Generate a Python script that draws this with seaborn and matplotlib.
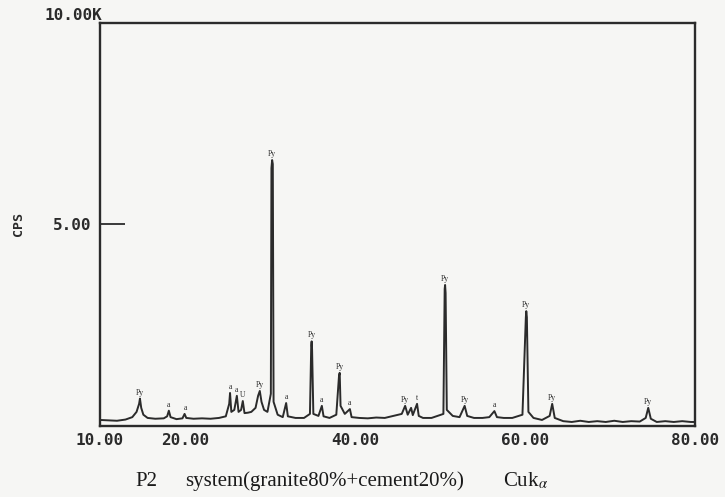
import matplotlib
matplotlib.use("Agg")
import matplotlib.pyplot as plt
import seaborn as sns
import pandas as pd

# ---- data (2-theta in degrees, intensity in kCPS) ----
two_theta = [10.0, 11.0, 12.0, 13.0, 13.8, 14.3, 14.6, 14.7, 14.85, 15.1, 15.6, 16.5, 17.5, 17.9,
             18.1, 18.3, 19.0, 19.7, 19.95, 20.15, 21.0, 22.0, 23.0, 24.0, 24.8, 25.2, 25.3, 25.45,
             25.8, 26.1, 26.3, 26.6, 26.8, 27.0, 27.4, 27.8, 28.3, 28.6, 28.8, 29.0, 29.3, 29.7,
             30.1, 30.17, 30.25, 30.33, 30.42, 30.9, 31.5, 31.9, 32.1, 33.0, 34.0, 34.7, 34.85, 34.9,
             34.95, 35.1, 35.7, 36.1, 36.3, 37.0, 37.8, 38.12, 38.2, 38.3, 38.8, 39.4, 39.6, 40.5,
             41.5, 42.5, 43.5, 44.5, 45.5, 45.9, 46.2, 46.6, 46.8, 47.3, 47.5, 48.0, 49.0, 50.4,
             50.55, 50.6, 50.66, 50.8, 51.5, 52.3, 52.9, 53.2, 54.0, 55.0, 55.8, 56.4, 56.7, 57.5,
             58.5, 59.7, 60.1, 60.15, 60.22, 60.4, 61.0, 62.0, 62.9, 63.2, 63.5, 64.5, 65.5, 66.5,
             67.5, 68.5, 69.5, 70.5, 71.5, 72.5, 73.5, 74.2, 74.5, 74.8, 75.5, 76.5, 77.5, 78.5,
             79.5, 80.0]
cps_k = [0.15, 0.14, 0.13, 0.16, 0.22, 0.35, 0.55, 0.68, 0.45, 0.28, 0.20, 0.18, 0.19, 0.24,
         0.38, 0.22, 0.17, 0.19, 0.30, 0.20, 0.18, 0.19, 0.18, 0.20, 0.24, 0.55, 0.82, 0.35,
         0.40, 0.75, 0.35, 0.40, 0.62, 0.32, 0.33, 0.35, 0.45, 0.75, 0.87, 0.60, 0.40, 0.35,
         0.80, 6.40, 6.60, 6.50, 0.60, 0.28, 0.22, 0.57, 0.24, 0.20, 0.20, 0.30, 2.00, 2.10,
         1.90, 0.30, 0.25, 0.50, 0.24, 0.20, 0.28, 1.25, 1.32, 0.50, 0.30, 0.42, 0.22, 0.20,
         0.19, 0.21, 0.20, 0.25, 0.30, 0.50, 0.28, 0.45, 0.27, 0.55, 0.25, 0.20, 0.20, 0.30,
         3.40, 3.50, 3.30, 0.40, 0.25, 0.22, 0.50, 0.25, 0.20, 0.20, 0.22, 0.37, 0.22, 0.20,
         0.20, 0.28, 2.70, 2.85, 2.70, 0.35, 0.20, 0.15, 0.25, 0.55, 0.20, 0.12, 0.10, 0.13,
         0.10, 0.12, 0.10, 0.13, 0.10, 0.12, 0.11, 0.20, 0.45, 0.18, 0.10, 0.12, 0.10, 0.12,
         0.10, 0.10]

peak_angles = [14.7, 18.1, 20.0, 25.3, 26.1, 26.8, 28.8, 30.25, 31.9, 34.9, 36.1, 38.2, 39.4,
               45.9, 47.3, 50.6, 52.9, 56.4, 60.15, 63.2, 74.5]
peak_heights = [0.68, 0.38, 0.30, 0.82, 0.75, 0.62, 0.87, 6.60, 0.57, 2.10, 0.50, 1.32, 0.42,
                0.50, 0.55, 3.50, 0.50, 0.37, 2.85, 0.55, 0.45]
peak_labels = ["Py", "a", "a", "a", "a", "U", "Py", "Py", "a", "Py", "a", "Py", "a",
               "Py", "t", "Py", "Py", "a", "Py", "Py", "Py"]

x_ticks = [10, 20, 40, 60, 80]
x_tick_labels = ["10.00", "20.00", "40.00", "60.00", "80.00"]
y_ticks = [5]
y_tick_labels = ["5.00"]
y_top_label = "10.00K"
y_axis_label = "CPS"
caption_parts = ["P2", "system(granite80%+cement20%)", r"Cuk$_{\alpha}$"]

# ---- drawing ----
sns.set_style("white")
plt.rcParams["mathtext.fontset"] = "stix"
bg = "#f6f6f4"
ink = "#2b2b2b"
mono = dict(family="DejaVu Sans Mono", fontweight="bold", fontsize=11.5, color=ink)

fig = plt.figure(figsize=(7.25, 4.97), dpi=100, facecolor=bg)
ax = fig.add_axes([100 / 725, 1 - 426 / 497, 595 / 725, 403 / 497])
ax.set_facecolor(bg)

df = pd.DataFrame({"two_theta": two_theta, "cps": cps_k})
sns.lineplot(data=df, x="two_theta", y="cps", ax=ax, color=ink, linewidth=1.4,
             sort=False, estimator=None)

for a, h, lab in zip(peak_angles, peak_heights, peak_labels):
    ax.annotate(lab, (a, h), xytext=(0, 1.5), textcoords="offset points",
                ha="center", va="bottom", fontsize=5.5, family="Liberation Serif",
                color=ink)

ax.set_xlim(10, 80)
ax.set_ylim(0, 10)
ax.set_xticks(x_ticks)
ax.set_xticklabels(x_tick_labels, **mono)
ax.set_yticks(y_ticks)
ax.set_yticklabels(y_tick_labels, **mono)
ax.tick_params(axis="x", bottom=False, length=0, pad=5)
ax.tick_params(axis="y", left=True, direction="in", length=18, width=1.3, color=ink, pad=6)
ax.set_xlabel("")
ax.set_ylabel(y_axis_label, family="DejaVu Sans Mono", fontweight="bold", fontsize=9.5,
              color=ink, labelpad=20)

for s in ax.spines.values():
    s.set_visible(True)
    s.set_color(ink)
    s.set_linewidth(1.7)

ax.text(0.003, 1.0, y_top_label, transform=ax.transAxes, ha="right", va="bottom", **mono)

cap = dict(family="Liberation Serif", fontsize=15, color="#1a1a1a", ha="left", va="baseline")
fig.text(135 / 725, 1 - 486 / 497, caption_parts[0], **cap)
fig.text(185 / 725, 1 - 486 / 497, caption_parts[1], **cap)
fig.text(503 / 725, 1 - 486 / 497, caption_parts[2], **cap)

fig.savefig("out.png", dpi=100, facecolor=bg)
